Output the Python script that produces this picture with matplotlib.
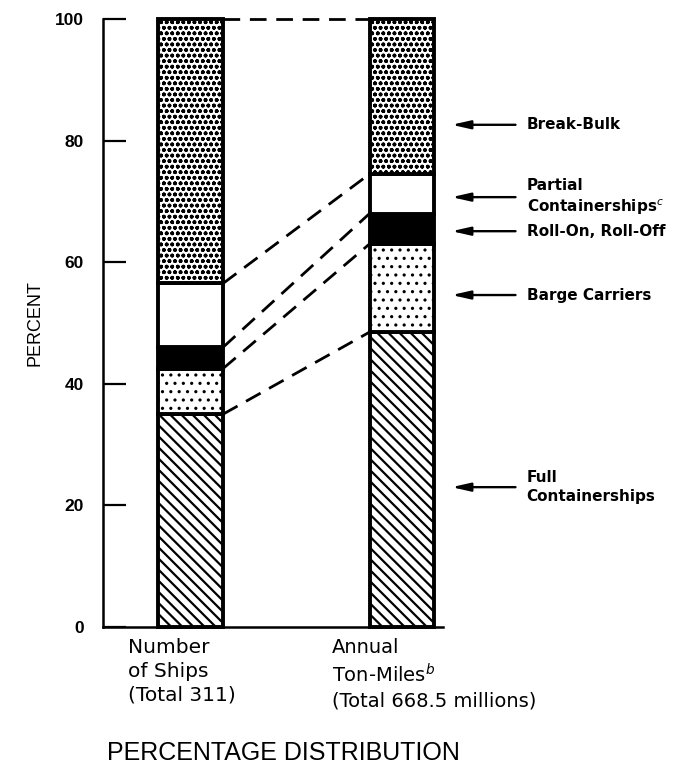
import matplotlib
matplotlib.use("Agg")
import matplotlib.pyplot as plt

plt.rcParams['font.family'] = ['Liberation Sans', 'DejaVu Sans']
plt.rcParams['mathtext.fontset'] = 'custom'
plt.rcParams['mathtext.rm'] = 'DejaVu Sans'
plt.rcParams['mathtext.it'] = 'DejaVu Sans:italic'
plt.rcParams['mathtext.bf'] = 'DejaVu Sans:bold'

# data (percent of total), stacked bottom to top
categories = ['Full Containerships', 'Barge Carriers', 'Roll-On, Roll-Off',
              'Partial Containerships', 'Break-Bulk']
ships_pct = [35.0, 7.5, 3.5, 10.5, 43.5]
tonmiles_pct = [48.5, 14.5, 5.0, 6.5, 25.5]
hatches = ['\\\\\\', '..', None, None, 'ooo']
hatch_lw = [1.6, 1.1, 1.0, 1.0, 1.15]
fills = ['white', 'white', 'black', 'white', 'white']

bar_labels = ['Number\nof Ships\n(Total 311)',
              'Annual\nTon-Miles$^{b}$\n(Total 668.5 millions)']
side_labels = ['Full\nContainerships', 'Barge Carriers', 'Roll-On, Roll-Off',
               'Partial\nContainerships$^{c}$', 'Break-Bulk']
side_label_y = [23.0, 54.6, 65.1, 70.7, 82.6]

W, H = 694, 777
fig = plt.figure(figsize=(W / 100, H / 100), dpi=100)
ax = fig.add_axes([103 / W, 1 - 627 / H, 340 / W, 608 / H])

xpos = [0, 1]
width = 0.307
for x, vals in zip(xpos, [ships_pct, tonmiles_pct]):
    bottom = 0
    for v, h, f, hl in zip(vals, hatches, fills, hatch_lw):
        bars = ax.bar(x, v, width, bottom=bottom, color=f, edgecolor='black',
                      linewidth=2.8, hatch=h, clip_on=False, zorder=3)
        for p in bars:
            p.set_hatch_linewidth(hl)
        bottom += v

# dashed connectors between the tops of each segment
top_l = 0
top_r = 0
for vl, vr in zip(ships_pct, tonmiles_pct):
    top_l += vl
    top_r += vr
    ax.plot([xpos[0] + width / 2, xpos[1] - width / 2], [top_l, top_r],
            color='black', lw=2.0, dashes=(6, 3.5), clip_on=False, zorder=2)

ax.set_xlim(-0.414, 1.194)
ax.set_ylim(0, 100)
ax.set_yticks([0, 20, 40, 60, 80, 100])
ax.set_xticks([])
for lab in ax.get_yticklabels():
    lab.set_fontweight('bold')
ax.tick_params(axis='y', direction='in', length=16.5, width=1.6, pad=14,
               labelsize=12.5)
for s in ['top', 'right']:
    ax.spines[s].set_visible(False)
ax.spines['left'].set_linewidth(1.8)
ax.spines['bottom'].set_linewidth(1.8)

ax.set_ylabel('PERCENT', fontsize=13, labelpad=8)

# arrows with labels on the right
for lab, y in zip(side_labels, side_label_y):
    ax.annotate('', xy=(1.222, y), xytext=(1.55, y),
                arrowprops=dict(arrowstyle='-|>,head_length=1.1,head_width=0.25',
                                color='black', lw=1.7),
                annotation_clip=False)
    ax.text(1.59, y, lab, fontsize=11, fontweight='bold', va='center',
            ha='left', linespacing=1.3, clip_on=False,
            family=['DejaVu Sans'])

# category labels under the bars
fig.text(128 / W, 1 - 638 / H, bar_labels[0], fontsize=14.5, va='top',
         ha='left', linespacing=1.33, family=['DejaVu Sans'])
fig.text(332 / W, 1 - 638 / H, bar_labels[1], fontsize=14, va='top',
         ha='left', linespacing=1.33, family=['DejaVu Sans'])
fig.text(107 / W, 1 - 753 / H, 'PERCENTAGE DISTRIBUTION', fontsize=18,
         va='center', ha='left')

fig.savefig('out.png', dpi=100)
